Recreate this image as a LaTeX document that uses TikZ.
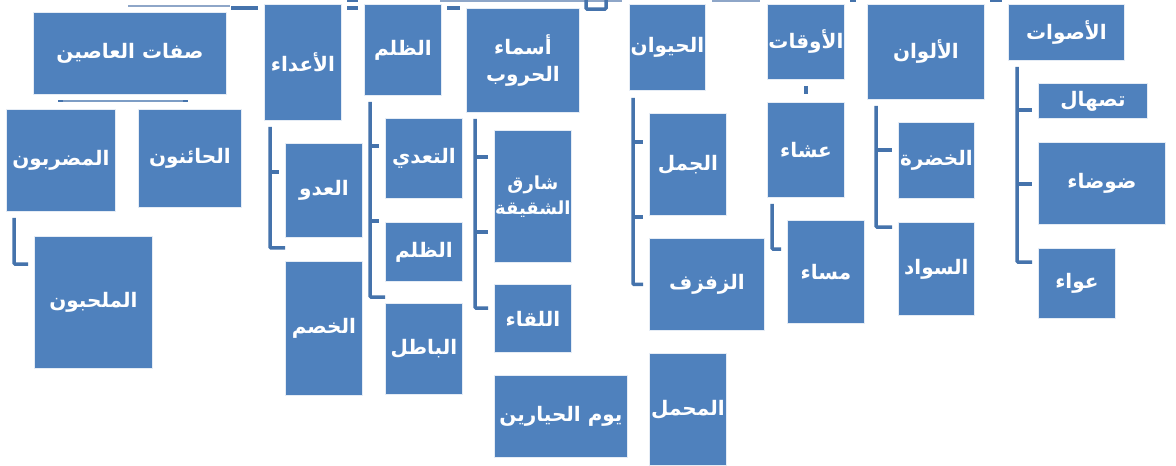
\documentclass[tikz,border=0pt]{standalone}
\usepackage{fontspec}
\newfontfamily\arabicfont[Script=Arabic]{DejaVu Sans}
\TeXXeTstate=1
\usetikzlibrary{calc}
\definecolor{boxblue}{HTML}{4F81BD}
\definecolor{linkblue}{HTML}{4573AC}
\definecolor{stubgray}{HTML}{8EA6C8}
\newcommand{\ar}[1]{\beginR #1\endR}

\begin{document}
\begin{tikzpicture}[x=1pt, y=-1pt,
  box/.style={draw=white!85!boxblue, line width=0.8pt, fill=boxblue, text=white,
    anchor=north west, inner sep=0pt, align=center,
    font=\arabicfont\bfseries\fontsize{20}{27}\selectfont},
  link/.style={draw=linkblue, line width=3.5pt, rounded corners=1pt},
  stub/.style={draw=stubgray, line width=1.2pt},
]
\useasboundingbox[fill=white] (0,0) rectangle (1176,466);
% top fragments of connectors
\draw[stub] (128,6) -- (230,6);
\draw[stub] (440,1) -- (622,1);
\draw[stub] (712,1) -- (760,1);
\draw[link, line width=4pt] (231,8) -- (258,8);
\draw[link, line width=4pt] (347,8) -- (358,8);
\draw[link, line width=4pt] (447,8) -- (460,8);
\draw[link, line width=2pt] (347,1) -- (358,1);
\draw[link] (586,0) -- (586,9) -- (606,9) -- (606,0);
\draw[link, line width=2pt] (850,1) -- (856,1);
\draw[link, line width=2pt] (990,1) -- (1002,1);
% first group
\node[box, minimum width=193pt, minimum height=82pt] (sifat) at (33,12) {\ar{صفات العاصين}};
\node[box, minimum width=109pt, minimum height=102pt] (madrubun) at (6,109) {\ar{المضربون}};
\node[box, minimum width=103pt, minimum height=98pt] (haainun) at (138,109) {\ar{الحائنون}};
\node[box, minimum width=118pt, minimum height=132pt] (mulhabun) at (34,236) {\ar{الملحبون}};
\draw[stub, draw=linkblue!70] (60,101) -- (187,101);
\draw[link, line width=2.5pt] (58,101) -- (63,101);
\draw[link, line width=2.5pt] (183,101) -- (188,101);
\draw[link] ([shift={(8pt,-6pt)}]madrubun.south west) |- ([shift={(-6pt,-28pt)}]mulhabun.north west);
% enemies
\node[box, minimum width=77pt, minimum height=116pt] (aadaa) at (264,4) {\ar{الأعداء}};
\node[box, minimum width=77pt, minimum height=94pt] (aduw) at (285,143) {\ar{العدو}};
\node[box, minimum width=77pt, minimum height=134pt] (khasm) at (285,261) {\ar{الخصم}};
\draw[link] ([shift={(6pt,-6pt)}]aadaa.south west) |- ([yshift=-10pt]aduw.south west);
\draw[link] (270,172) -- ++(9,0);
% injustice
\node[box, minimum width=77pt, minimum height=91pt] (zulm) at (364,4) {\ar{الظلم}};
\node[box, minimum width=77pt, minimum height=80pt] (taaddi) at (385,118) {\ar{التعدي}};
\node[box, minimum width=77pt, minimum height=59pt] (zulmb) at (385,222) {\ar{الظلم}};
\node[box, minimum width=77pt, minimum height=91pt] (batil) at (385,303) {\ar{الباطل}};
\draw[link] ([shift={(6pt,-6pt)}]zulm.south west) |- ([yshift=6pt]batil.north west);
\draw[link] (370,146) -- ++(9,0);
\draw[link] (370,221) -- ++(9,0);
% wars
\node[box, minimum width=113pt, minimum height=104pt] (hurub) at (466,8) {\ar{أسماء}\\\ar{الحروب}};
\node[box, minimum width=77pt, minimum height=132pt, font=\arabicfont\bfseries\fontsize{18}{25}\selectfont] (shariq) at (494,130) {\ar{شارق}\\\makebox[0pt]{\ar{الشقيقة}}};
\node[box, minimum width=77pt, minimum height=68pt] (liqaa) at (494,284) {\ar{اللقاء}};
\node[box, minimum width=133pt, minimum height=82pt] (hayarin) at (494,375) {\ar{يوم الحيارين}};
\draw[link] ([shift={(9pt,-6pt)}]hurub.south west) |- ([shift={(-6pt,-24pt)}]liqaa.north west);
\draw[link] (475,157) -- ++(13,0);
\draw[link] (475,232) -- ++(13,0);
% animals
\node[box, minimum width=76pt, minimum height=86pt] (hayawan) at (629,4) {\ar{الحيوان}};
\node[box, minimum width=77pt, minimum height=102pt] (jamal) at (649,113) {\ar{الجمل}};
\node[box, minimum width=115pt, minimum height=92pt] (zafzaf) at (649,238) {\ar{الزفزف}};
\node[box, minimum width=77pt, minimum height=112pt] (mahmal) at (649,353) {\ar{المحمل}};
\draw[link] ([shift={(4pt,-7pt)}]hayawan.south west) |- ([xshift=-6pt]zafzaf.west);
\draw[link] (633,142) -- ++(10,0);
\draw[link] (633,217) -- ++(10,0);
% times
\node[box, minimum width=77pt, minimum height=75pt] (awqat) at (767,4) {\ar{الأوقات}};
\node[box, minimum width=77pt, minimum height=95pt] (ishaa) at (767,102) {\ar{عشاء}};
\node[box, minimum width=77pt, minimum height=103pt] (masaa) at (787,220) {\ar{مساء}};
\draw[link, line width=4pt] ([yshift=-6pt]awqat.south) -- ([yshift=8pt]ishaa.north);
\draw[link] ([shift={(5pt,-6pt)}]ishaa.south west) |- ([shift={(-6pt,-29pt)}]masaa.north west);
% colours
\node[box, minimum width=117pt, minimum height=95pt] (alwan) at (867,4) {\ar{الألوان}};
\node[box, minimum width=76pt, minimum height=76pt] (khudra) at (898,122) {\ar{الخضرة}};
\node[box, minimum width=76pt, minimum height=93pt] (sawad) at (898,222) {\ar{السواد}};
\draw[link] ([shift={(9pt,-6pt)}]alwan.south west) |- ([shift={(-6pt,-5pt)}]sawad.north west);
\draw[link] (876,150) -- ++(16,0);
% sounds
\node[box, minimum width=116pt, minimum height=56pt] (aswat) at (1008,4) {\ar{الأصوات}};
\node[box, minimum width=109pt, minimum height=35pt] (tashal) at (1038,83) {\ar{تصهال}};
\node[box, minimum width=127pt, minimum height=82pt] (dawdaa) at (1038,142) {\ar{ضوضاء}};
\node[box, minimum width=77pt, minimum height=70pt] (uwaa) at (1038,248) {\ar{عواء}};
\draw[link] ([shift={(9pt,-6pt)}]aswat.south west) |- ([shift={(-6pt,-14pt)}]uwaa.north west);
\draw[link] (1017,110) -- ++(15,0);
\draw[link] (1017,184) -- ++(15,0);
\end{tikzpicture}
\end{document}
